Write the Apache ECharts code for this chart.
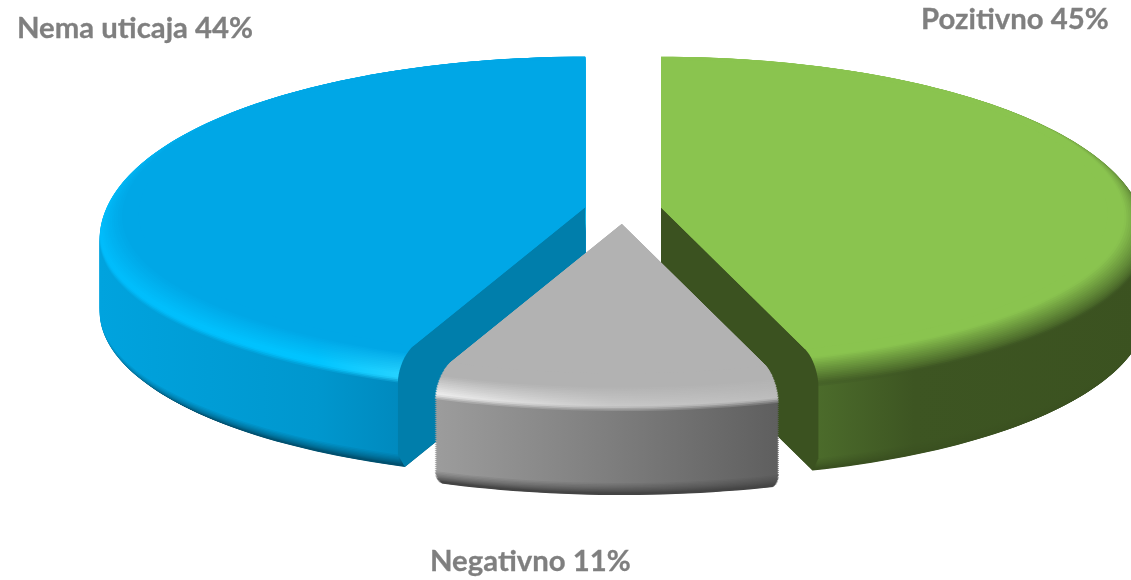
<!DOCTYPE html>
<html>
<head>
<meta charset="utf-8">
<style>html,body{margin:0;padding:0;background:#fff}#c{width:1131px;height:580px}</style>
<script src="https://cdn.jsdelivr.net/npm/echarts@6/dist/echarts.min.js"></script>
</head>
<body>
<div id="c"></div>
<script>
// Data (clockwise, first slice ends at 12 o'clock)
var categories = ['Nema uticaja', 'Pozitivno', 'Negativno'];
var values = [44, 45, 11];

// Label placement
var labelX = [17, 921, 430];
var labelY = [28.5, 19.5, 561.5];

// Projection and solid profile
var cx = 623, cy = 207.9, rx = 485, ryFront = 155, ryBack = 168, persp = 0.05;
var explodeX = 38.5, explodeY = 16;
var flatR = 0.92, bevelZ = 24, footZ = 96, bottomZ = 114, bottomR = 0.965;

// Styles
var styles = [
  { flat: '#00A7E6', face: '#007EAB', foot: '#00506F',
    crest: [[0, '#00BCFB'], [0.7, '#00C4FF'], [1, '#2AD4FF']], x0: 100, x1: 410,
    wall: [[0, '#00A3DE'], [0.7, '#0097CE'], [1, '#0088BC']], crestAt: [0.28, 0.8] },
  { flat: '#8AC44F', face: '#3B5220', foot: '#3A5020',
    crest: [[0, '#3D5522'], [0.3, '#3D5522'], [1, '#3D5522']], x0: 815, x1: 1146,
    wall: [[0, '#4C6C2B'], [0.3, '#3D5522'], [1, '#3B5220']], crestAt: [0.3, 1] },
  { flat: '#B2B2B2', face: '#6A6A6A', foot: '#444444',
    crest: [[0, '#ECECEC'], [0.5, '#C8C8C8'], [1, '#BCBCBC']], x0: 437, x1: 782,
    wall: [[0, '#9C9C9C'], [0.5, '#7E7E7E'], [1, '#5E5E5E']], crestAt: [0.45, 0.88] }
];

function hex(c) { return [1, 3, 5].map(function (i) { return parseInt(c.substr(i, 2), 16); }); }
function mix(a, b, t) {
  var A = hex(a), B = hex(b), o = '#';
  for (var i = 0; i < 3; i++) {
    var v = Math.round(A[i] + (B[i] - A[i]) * t).toString(16);
    o += v.length < 2 ? '0' + v : v;
  }
  return o;
}

var total = values.reduce(function (s, v) { return s + v; }, 0);
var startAngles = [], acc = -values[0] / total * 360;
values.forEach(function (v) { startAngles.push(acc); acc += v / total * 360; });

function project(apex, r, deg, z) {
  var a = deg * Math.PI / 180, u = Math.sin(a), v = -Math.cos(a);
  var d = 1 - persp * r * v, b = v >= 0 ? ryFront : ryBack;
  return [apex[0] + rx * r * u / d, apex[1] + b * r * v / d + z];
}
function outline(apex, a0, a1, r, z) {
  var pts = [[apex[0], apex[1] + z]];
  var n = Math.ceil((a1 - a0) / 1.5);
  for (var i = 0; i <= n; i++) pts.push(project(apex, r, a0 + (a1 - a0) * i / n, z));
  return pts;
}
function grad(st, stops) {
  return new echarts.graphic.LinearGradient(st.x0, 0, st.x1, 0,
    stops.map(function (s) { return { offset: s[0], color: s[1] }; }), true);
}
function poly(points, fill) {
  return { type: 'polygon', silent: true, shape: { points: points }, style: { fill: fill, stroke: null } };
}
function bevel(t) { // t=0 flat edge, t=1 crease
  var q = t * Math.PI / 2;
  return { r: flatR + (1 - flatR) * Math.sin(q), z: bevelZ * (1 - Math.cos(q)) };
}
function face(apex, ang) {
  var pts = [[apex[0], apex[1]], project(apex, flatR, ang, 0)];
  for (var t = 0.1; t <= 1.001; t += 0.1) { var b = bevel(t); pts.push(project(apex, b.r, ang, b.z)); }
  pts.push(project(apex, 1, ang, footZ));
  pts.push(project(apex, bottomR, ang, bottomZ));
  pts.push([apex[0], apex[1] + bottomZ]);
  return pts;
}

function renderItem(params, api) {
  var i = params.dataIndex, st = styles[i];
  var a0 = startAngles[i], a1 = a0 + api.value(0) / total * 360;
  var mid = (a0 + a1) / 2 * Math.PI / 180, mu = Math.sin(mid), mv = -Math.cos(mid);
  var apex = [cx + explodeX * mu, cy + explodeY * mv * Math.abs(mv)];
  var kids = [], z, t;

  // foot of the wall: rounded lower edge, darkening downwards
  for (z = bottomZ; z > footZ; z -= 1.5) {
    t = (z - footZ) / (bottomZ - footZ);
    var rr = 1 - (1 - bottomR) * t * t;
    kids.push(poly(outline(apex, a0, a1, rr, z), grad(st, st.wall.map(function (s) {
      return [s[0], mix(s[1], st.foot, Math.min(1, t * 1.3))];
    }))));
  }
  // wall
  var wallFill = grad(st, st.wall);
  for (z = footZ; z > bevelZ; z -= 2) kids.push(poly(outline(apex, a0, a1, 1, z), wallFill));
  // bevel: from the crease up to the flat top, soft where it meets the wall
  for (t = 1; t > 0; t -= 0.04) {
    var b = bevel(t);
    var w = t < st.crestAt[0] ? 0 : Math.min(1, (t - st.crestAt[0]) / (st.crestAt[1] - st.crestAt[0]));
    var soft = t > 0.9 ? (t - 0.9) / 0.1 * 0.75 : 0;
    kids.push(poly(outline(apex, a0, a1, b.r, b.z), grad(st, st.crest.map(function (s, k) {
      return [s[0], mix(mix(st.flat, s[1], w), st.wall[k][1], soft)];
    }))));
  }
  // cut faces that look towards the viewer
  if (-Math.sin(a0 * Math.PI / 180) > 0.1) kids.push(poly(face(apex, a0), st.face));
  if (Math.sin(a1 * Math.PI / 180) > 0.1) kids.push(poly(face(apex, a1), st.face));
  // flat top
  kids.push(poly(outline(apex, a0, a1, flatR, 0), st.flat));
  // label
  kids.push({
    type: 'text', silent: true,
    style: {
      text: categories[i] + ' ' + api.value(0) + '%',
      x: labelX[i], y: labelY[i], align: 'left', verticalAlign: 'middle',
      fill: '#7F7F7F', stroke: '#7F7F7F', lineWidth: 0.3,
      fontFamily: 'Lato', fontWeight: 700, fontSize: 29.3
    }
  });
  return { type: 'group', children: kids };
}

var chart = echarts.init(document.getElementById('c'), null, { renderer: 'canvas' });
chart.setOption({
  animation: false,
  backgroundColor: '#ffffff',
  series: [{
    type: 'custom',
    coordinateSystem: 'none',
    renderItem: renderItem,
    clip: false,
    data: values.map(function (v, i) { return { name: categories[i], value: v }; })
  }]
});
</script>
</body>
</html>
